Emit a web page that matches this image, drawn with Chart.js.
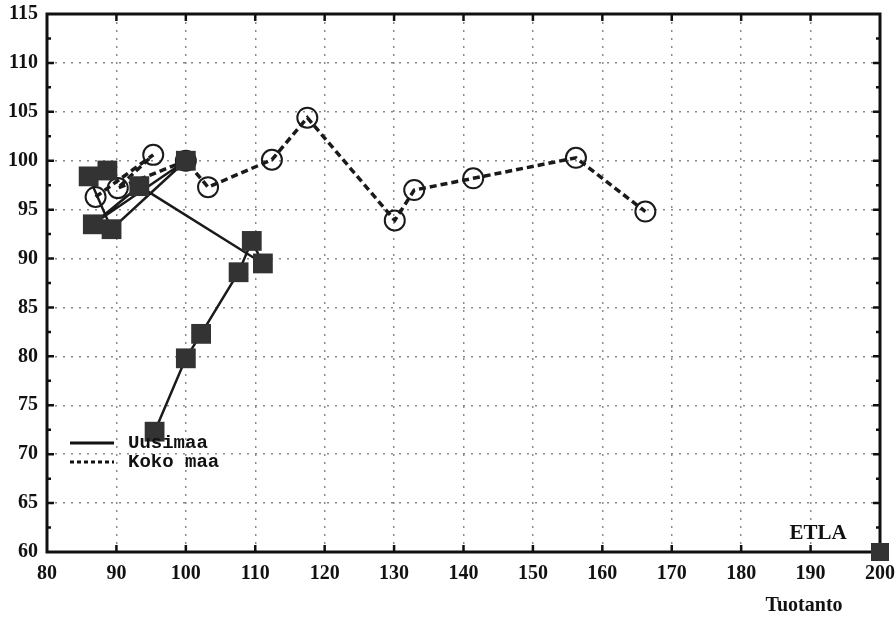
<!DOCTYPE html>
<html>
<head>
<meta charset="utf-8">
<script src="https://cdn.jsdelivr.net/npm/chart.js@4.4.1/dist/chart.umd.min.js"></script>
<style>
  html, body { margin: 0; padding: 0; background: #fff; }
</style>
</head>
<body>
<canvas id="chart" width="896" height="624"></canvas>
<script>
// Uusimaa (solid line, filled squares)
var uusimaaX = [95.5, 100.0, 102.2, 107.6, 109.5, 111.1, 93.3, 86.6, 100.0, 89.3, 86.0, 88.7];
var uusimaaY = [72.3, 79.8, 82.3, 88.6, 91.8, 89.5, 97.4, 93.5, 100.0, 93.0, 98.4, 99.0];

// Koko maa (dashed line, open circles)
var kokoX = [87.0, 95.3, 90.2, 100.0, 103.2, 112.4, 117.5, 130.1, 132.9, 141.4, 156.2, 166.2];
var kokoY = [96.3, 100.6, 97.2, 100.0, 97.3, 100.1, 104.4, 93.9, 97.0, 98.2, 100.3, 94.8];

var seriesNames = ["Uusimaa", "Koko maa"];
var xTitle = "Tuotanto";
var brand = "ETLA";

function toPoints(xs, ys) {
    var pts = [];
    for (var i = 0; i < xs.length; i++) pts.push({ x: xs[i], y: ys[i] });
    return pts;
}

var serif = '"Liberation Serif", "DejaVu Serif", serif';
var mono = '"Liberation Mono", "DejaVu Sans Mono", monospace';

var framePlugin = {
    id: "frame",
    afterDatasetsDraw: function (chart) {
        var ctx = chart.ctx;
        var a = chart.chartArea;
        var xs = chart.scales.x;
        var ys = chart.scales.y;
        ctx.save();

        // frame
        ctx.strokeStyle = "#111";
        ctx.lineWidth = 3;
        ctx.setLineDash([]);
        ctx.strokeRect(a.left, a.top, a.right - a.left, a.bottom - a.top);

        // inward ticks
        ctx.lineWidth = 2.5;
        ctx.beginPath();
        for (var v = 62.5; v < 115; v += 2.5) {
            var py = ys.getPixelForValue(v);
            var len = (v % 5 === 0) ? 7 : 4;
            ctx.moveTo(a.left, py); ctx.lineTo(a.left + len, py);
            ctx.moveTo(a.right, py); ctx.lineTo(a.right - len, py);
        }
        for (var u = 90; u < 200; u += 10) {
            var px = xs.getPixelForValue(u);
            ctx.moveTo(px, a.bottom); ctx.lineTo(px, a.bottom - 7);
            ctx.moveTo(px, a.top); ctx.lineTo(px, a.top + 7);
        }
        ctx.stroke();

        // legend
        var lx = a.left + 23;
        ctx.lineWidth = 3;
        ctx.beginPath();
        ctx.moveTo(lx, 443); ctx.lineTo(lx + 44, 443);
        ctx.stroke();
        ctx.setLineDash([4, 3]);
        ctx.beginPath();
        ctx.moveTo(lx, 462); ctx.lineTo(lx + 44, 462);
        ctx.stroke();
        ctx.setLineDash([]);
        ctx.fillStyle = "#111";
        ctx.font = "bold 19px " + mono;
        ctx.textAlign = "left";
        ctx.textBaseline = "middle";
        ctx.fillText(seriesNames[0], lx + 58, 443);
        ctx.fillText(seriesNames[1], lx + 58, 462);

        // brand and axis title
        ctx.textAlign = "center";
        ctx.font = "bold 21px " + serif;
        ctx.fillText(brand, 818, 534);
        ctx.font = "bold 20px " + serif;
        ctx.fillText(xTitle, 804, 606);

        // corner square
        var cx = xs.getPixelForValue(200);
        var cy = ys.getPixelForValue(60);
        ctx.fillStyle = "#333";
        ctx.fillRect(cx - 9, cy - 9, 18, 18);
        ctx.restore();
    }
};

var ctx = document.getElementById("chart").getContext("2d");

var chart = new Chart(ctx, {
    type: "scatter",
    data: {
        datasets: [
            {
                label: seriesNames[0],
                data: toPoints(uusimaaX, uusimaaY),
                showLine: true,
                borderColor: "#1a1a1a",
                borderWidth: 2.5,
                pointStyle: "rect",
                pointRadius: 14,
                pointBorderWidth: 0,
                pointBackgroundColor: "#333",
                pointBorderColor: "#333"
            },
            {
                label: seriesNames[1],
                data: toPoints(kokoX, kokoY),
                showLine: true,
                borderColor: "#1a1a1a",
                borderWidth: 3.5,
                borderDash: [7, 4],
                pointStyle: "circle",
                pointRadius: 10,
                pointBorderWidth: 2,
                pointBorderColor: "#1a1a1a",
                pointBackgroundColor: "rgba(255,255,255,0)"
            }
        ]
    },
    options: {
        responsive: false,
        animation: false,
        events: [],
        layout: { padding: { top: 12, right: 16, left: 0, bottom: 0 } },
        plugins: {
            legend: { display: false },
            tooltip: { enabled: false }
        },
        scales: {
            x: {
                type: "linear",
                min: 80,
                max: 200,
                ticks: {
                    stepSize: 10,
                    color: "#111",
                    padding: 10,
                    font: { family: serif, size: 20, weight: "bold" }
                },
                grid: { color: "#8a8a8a", lineWidth: 1.5, drawTicks: false },
                border: { display: false, dash: [2, 6] },
                afterFit: function (scale) {
                    scale.height = 72;
                    scale.paddingLeft = 0;
                    scale.paddingRight = 0;
                }
            },
            y: {
                type: "linear",
                min: 60,
                max: 115,
                ticks: {
                    stepSize: 5,
                    color: "#111",
                    padding: 9,
                    font: { family: serif, size: 20, weight: "bold" }
                },
                grid: { color: "#8a8a8a", lineWidth: 1.5, drawTicks: false },
                border: { display: false, dash: [2, 6] },
                afterFit: function (scale) {
                    scale.width = 47;
                    scale.paddingTop = 0;
                    scale.paddingBottom = 0;
                }
            }
        }
    },
    plugins: [framePlugin]
});
</script>
</body>
</html>
